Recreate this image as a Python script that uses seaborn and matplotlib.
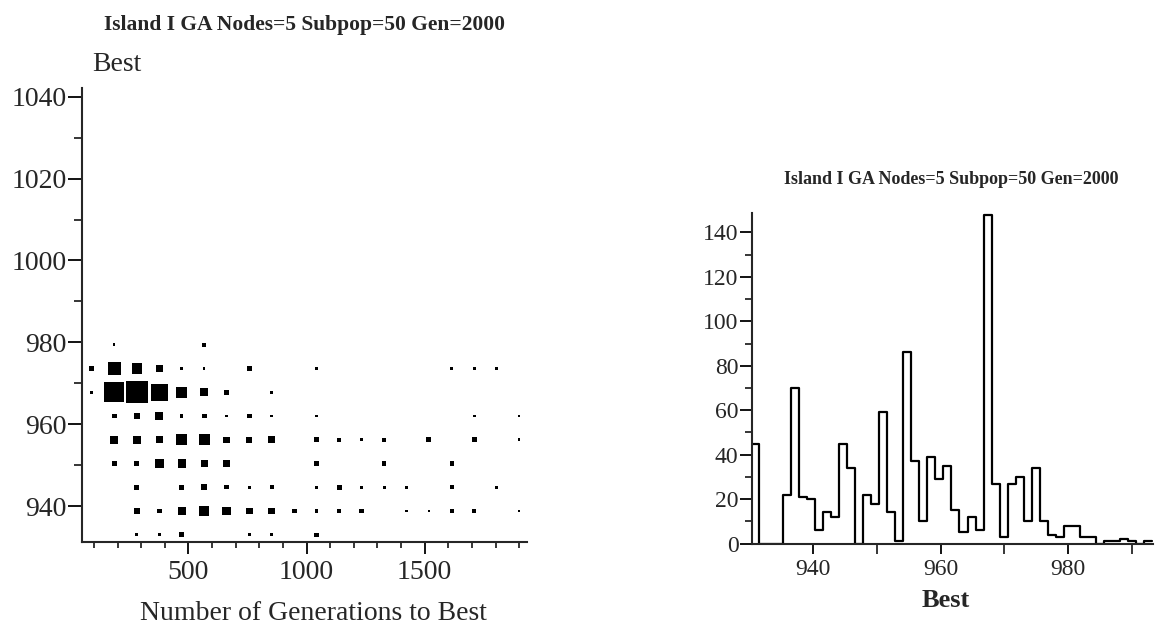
import matplotlib
matplotlib.use("Agg")
import matplotlib.pyplot as plt
import seaborn as sns
import numpy as np
import pandas as pd
from matplotlib.ticker import MultipleLocator, FixedLocator

# ---------------- data ----------------
title_text = "Island I GA Nodes=5 Subpop=50 Gen=2000"

# scatter: generation columns and best-value rows, counts per cell
gen_columns = [90, 185, 281, 376, 471, 566, 661, 757, 852, 947,
               1042, 1138, 1233, 1328, 1423, 1518, 1614, 1709, 1804, 1899]
best_rows = [979.4, 973.6, 967.8, 962.0, 956.2, 950.4, 944.6, 938.8, 933.0]
count_grid = [
    [0, 2, 0, 0, 0, 4, 0, 0, 0, 0, 0, 0, 0, 0, 0, 0, 0, 0, 0, 0],
    [6, 42, 25, 12, 2, 2, 0, 6, 0, 0, 2, 0, 0, 0, 0, 0, 2, 2, 2, 0],
    [2, 100, 121, 72, 30, 16, 6, 0, 2, 0, 0, 0, 0, 0, 0, 0, 0, 0, 0, 0],
    [0, 6, 9, 16, 3, 6, 2, 6, 2, 0, 2, 0, 0, 0, 0, 0, 0, 2, 0, 2],
    [0, 16, 16, 12, 30, 30, 9, 9, 12, 0, 6, 3, 2, 4, 0, 6, 0, 6, 0, 2],
    [0, 6, 6, 20, 16, 12, 9, 0, 0, 0, 6, 0, 0, 4, 0, 0, 4, 0, 0, 0],
    [0, 0, 6, 0, 6, 9, 4, 2, 4, 0, 2, 6, 2, 2, 2, 0, 4, 0, 2, 0],
    [0, 0, 9, 6, 16, 25, 16, 12, 12, 6, 3, 3, 6, 0, 2, 2, 4, 4, 0, 2],
    [0, 0, 2, 2, 6, 0, 0, 2, 2, 0, 4, 0, 0, 0, 0, 0, 0, 0, 0, 0],
]

# histogram of Best
hist_start = 930.16
hist_width = 1.261
hist_counts = [45, 0, 0, 0, 22, 70, 21, 20, 6, 14,
               12, 45, 34, 0, 22, 18, 59, 14, 1, 86,
               37, 10, 39, 29, 35, 15, 5, 12, 6, 148,
               27, 3, 27, 30, 10, 34, 10, 4, 3, 8,
               8, 3, 3, 0, 1, 1, 2, 1, 0, 1]

# ---------------- style ----------------
sns.set_style("ticks")
plt.rcParams["font.family"] = ["Liberation Serif", "DejaVu Serif"]
plt.rcParams["axes.linewidth"] = 1.5

W, H = 1155, 629
fig = plt.figure(figsize=(W / 100, H / 100), dpi=100)

# ---------------- left: bubble scatter ----------------
L_x0, L_x1, L_y0, L_y1 = 81.7, 527, 541.7, 87.7
ax1 = fig.add_axes([L_x0 / W, 1 - L_y0 / H, (L_x1 - L_x0) / W, (L_y0 - L_y1) / H])
rows = []
for r, b in enumerate(best_rows):
    for c, g in enumerate(gen_columns):
        n = count_grid[r][c]
        if n > 0:
            rows.append({"gen": g, "best": b, "n": n})
df = pd.DataFrame(rows)
sns.scatterplot(data=df, x="gen", y="best", size="n", sizes=(0, 255),
                size_norm=(0, 121), marker="s", color="black",
                edgecolor="none", linewidth=0, legend=False, ax=ax1)
ax1.set_xlim(48, 1933)
ax1.set_ylim(931.3, 1042.2)
sns.despine(ax=ax1)
ax1.xaxis.set_major_locator(FixedLocator([500, 1000, 1500]))
ax1.xaxis.set_minor_locator(MultipleLocator(100))
ax1.yaxis.set_major_locator(MultipleLocator(20))
ax1.yaxis.set_minor_locator(MultipleLocator(10))
ax1.tick_params(axis="both", which="major", labelsize=20, width=1.3, color="black")
ax1.tick_params(axis="y", which="major", length=10, pad=1)
ax1.tick_params(axis="y", which="minor", length=5.5, width=1.3)
ax1.tick_params(axis="x", which="major", length=8.5, pad=5)
ax1.tick_params(axis="x", which="minor", length=4.5, width=1.3)
ax1.set_xlabel("Number of Generations to Best", fontsize=20)
ax1.xaxis.set_label_coords((313 - L_x0) / (L_x1 - L_x0), (L_y0 - 601) / (L_y0 - L_y1))
ax1.set_ylabel("Best", fontsize=20, rotation=0, ha="left", va="baseline")
ax1.yaxis.set_label_coords((92 - L_x0) / (L_x1 - L_x0), (L_y0 - 71) / (L_y0 - L_y1))
fig.text(305 / W, 1 - 30 / H, title_text, fontsize=15.5, fontweight="bold",
         ha="center", va="baseline")

# ---------------- right: step histogram ----------------
R_x0, R_x1, R_y0, R_y1 = 751.7, 1153, 543.5, 213.3
ax2 = fig.add_axes([R_x0 / W, 1 - R_y0 / H, (R_x1 - R_x0) / W, (R_y0 - R_y1) / H])
nbins = len(hist_counts)
hist_end = hist_start + hist_width * nbins
centers = hist_start + hist_width * (np.arange(nbins) + 0.5)
hdf = pd.DataFrame({"best": centers, "count": hist_counts})
sns.histplot(data=hdf, x="best", weights="count", bins=nbins,
             binrange=(hist_start, hist_end), element="step",
             fill=False, color="black", linewidth=1.6, ax=ax2)
ax2.set_xlim(930.35, 993.3)
ax2.set_ylim(0, 148.6)
sns.despine(ax=ax2)
ax2.xaxis.set_major_locator(FixedLocator([940, 960, 980]))
ax2.xaxis.set_minor_locator(FixedLocator([950, 970, 990]))
ax2.yaxis.set_major_locator(MultipleLocator(20))
ax2.yaxis.set_minor_locator(MultipleLocator(10))
ax2.tick_params(axis="both", which="major", labelsize=17, width=1.3, color="black")
ax2.tick_params(axis="y", which="major", length=8.5, pad=1)
ax2.tick_params(axis="y", which="minor", length=5, width=1.3)
ax2.tick_params(axis="x", which="both", length=7, width=1.3, pad=4)
ax2.set_ylabel("")
ax2.set_xlabel("Best", fontsize=19, fontweight="bold")
ax2.xaxis.set_label_coords((946 - R_x0) / (R_x1 - R_x0), (R_y0 - 589) / (R_y0 - R_y1))
fig.text(951 / W, 1 - 184 / H, title_text, fontsize=13, fontweight="bold",
         ha="center", va="baseline")

fig.savefig("out.png", dpi=100)
